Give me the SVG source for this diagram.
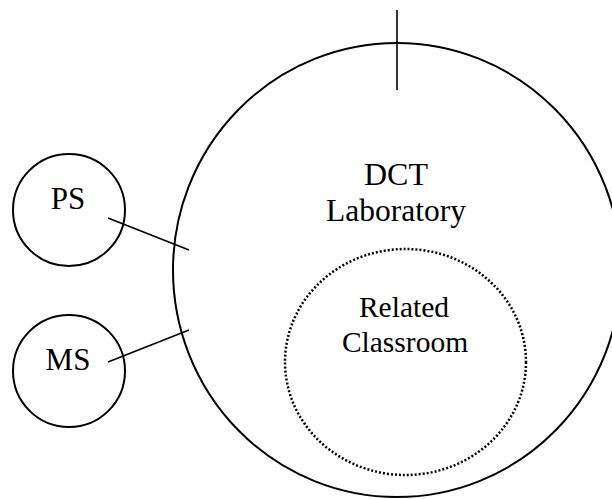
<svg xmlns="http://www.w3.org/2000/svg" width="612" height="499" viewBox="0 0 612 499">
<style>
.node{fill:none;stroke:#000;stroke-width:2}
.dot{fill:none;stroke:#000;stroke-width:2.5;stroke-dasharray:2 2}
.conn{stroke:#000;stroke-width:1.6;fill:none}
text{font-family:"Liberation Serif","Times New Roman",serif;font-size:31px;fill:#000;text-anchor:middle}
.sm{font-size:29.5px}
</style>
<rect width="612" height="499" fill="#fff"/>
<g id="lab">
<ellipse class="node" cx="397" cy="270" rx="224" ry="227"/>
<text x="396" y="185" style="font-size:32px">DCT</text>
<text x="396" y="221" style="font-size:31.5px">Laboratory</text>
</g>
<g id="classroom">
<ellipse class="dot" cx="405.5" cy="362" rx="120.5" ry="113"/>
<text class="sm" x="404" y="317">Related</text>
<text class="sm" x="405" y="352">Classroom</text>
</g>
<g id="ps">
<circle class="node" cx="69" cy="210" r="56"/>
<text x="68" y="209">PS</text>
</g>
<g id="ms">
<circle class="node" cx="69" cy="371" r="56"/>
<text x="68" y="370">MS</text>
</g>
<g id="connectors">
<line class="conn" x1="397" y1="10" x2="397" y2="90"/>
<line class="conn" x1="108" y1="218" x2="189" y2="250"/>
<line class="conn" x1="108" y1="362" x2="189" y2="330"/>
</g>
</svg>
